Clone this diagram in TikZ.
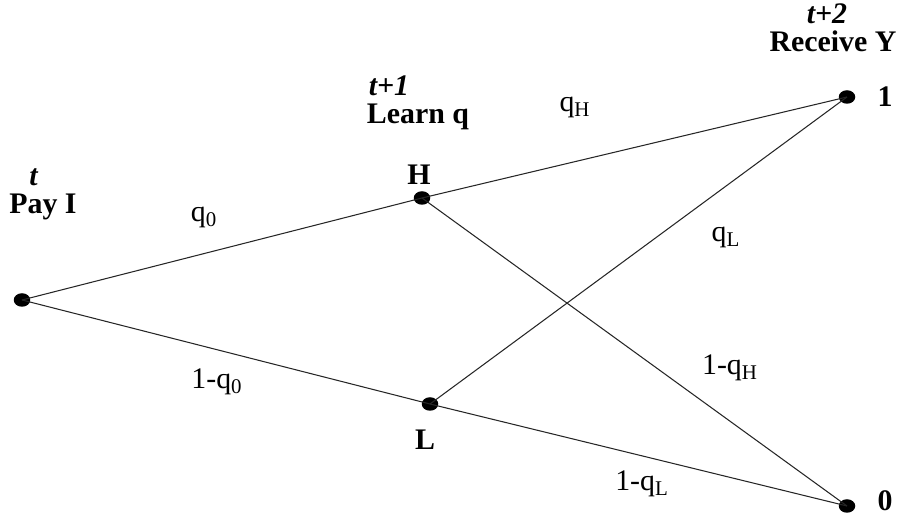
\documentclass[tikz,border=0pt]{standalone}
\usepackage{fontspec}
\setmainfont{Liberation Serif}
\usetikzlibrary{shapes.geometric}

\begin{document}
\begin{tikzpicture}[x=0.02cm,y=-0.02cm,
  dot/.style={ellipse,fill=black,inner sep=0pt,minimum width=0.33cm,minimum height=0.27cm},
  branch/.style={line width=0.6pt,color=black!85},
  head/.style={font=\fontsize{17}{16}\selectfont\bfseries,inner sep=0pt,align=center},
  prob/.style={font=\fontsize{17}{20}\selectfont,inner sep=0pt}]
\useasboundingbox (0,0) rectangle (904,516);

\node[dot] (start) at (22,300) {};
\node[dot] (high) at (422,198) {};
\node[dot] (low) at (430,404) {};
\node[dot] (one) at (847,97) {};
\node[dot] (zero) at (847,506) {};

\draw[branch] (start.center) -- (high.center);
\draw[branch] (start.center) -- (low.center);
\draw[branch] (high.center) -- (one.center);
\draw[branch] (high.center) -- (zero.center);
\draw[branch] (low.center) -- (one.center);
\draw[branch] (low.center) -- (zero.center);

% period headings
\node[head] (pay) at (43,194) {\textit{t}\hspace*{0.36cm}\\Pay I};
\node[head] (learn) at (418,103) {\textit{t+1}\hspace*{1.16cm}\\Learn q};
\node[head] (receive) at (833,28) {\textit{t+2}\hspace*{0.24cm}\\Receive Y};

\node[head] (hlabel) at (419,175) {H};
\node[head] (llabel) at (425,440) {L};
\node[head] (onelabel) at (885,97) {1};
\node[head] (zerolabel) at (885,501) {0};

\node[prob] (pzero) at (204,218) {q\textsubscript{0}};
\node[prob] (pzerob) at (217,382) {1-q\textsubscript{0}};
\node[prob] (phigh) at (575,108) {q\textsubscript{H}};
\node[prob] (plow) at (726,238) {q\textsubscript{L}};
\node[prob] (phighb) at (730,368) {1-q\textsubscript{H}};
\node[prob] (plowb) at (642,484) {1-q\textsubscript{L}};

\end{tikzpicture}
\end{document}
